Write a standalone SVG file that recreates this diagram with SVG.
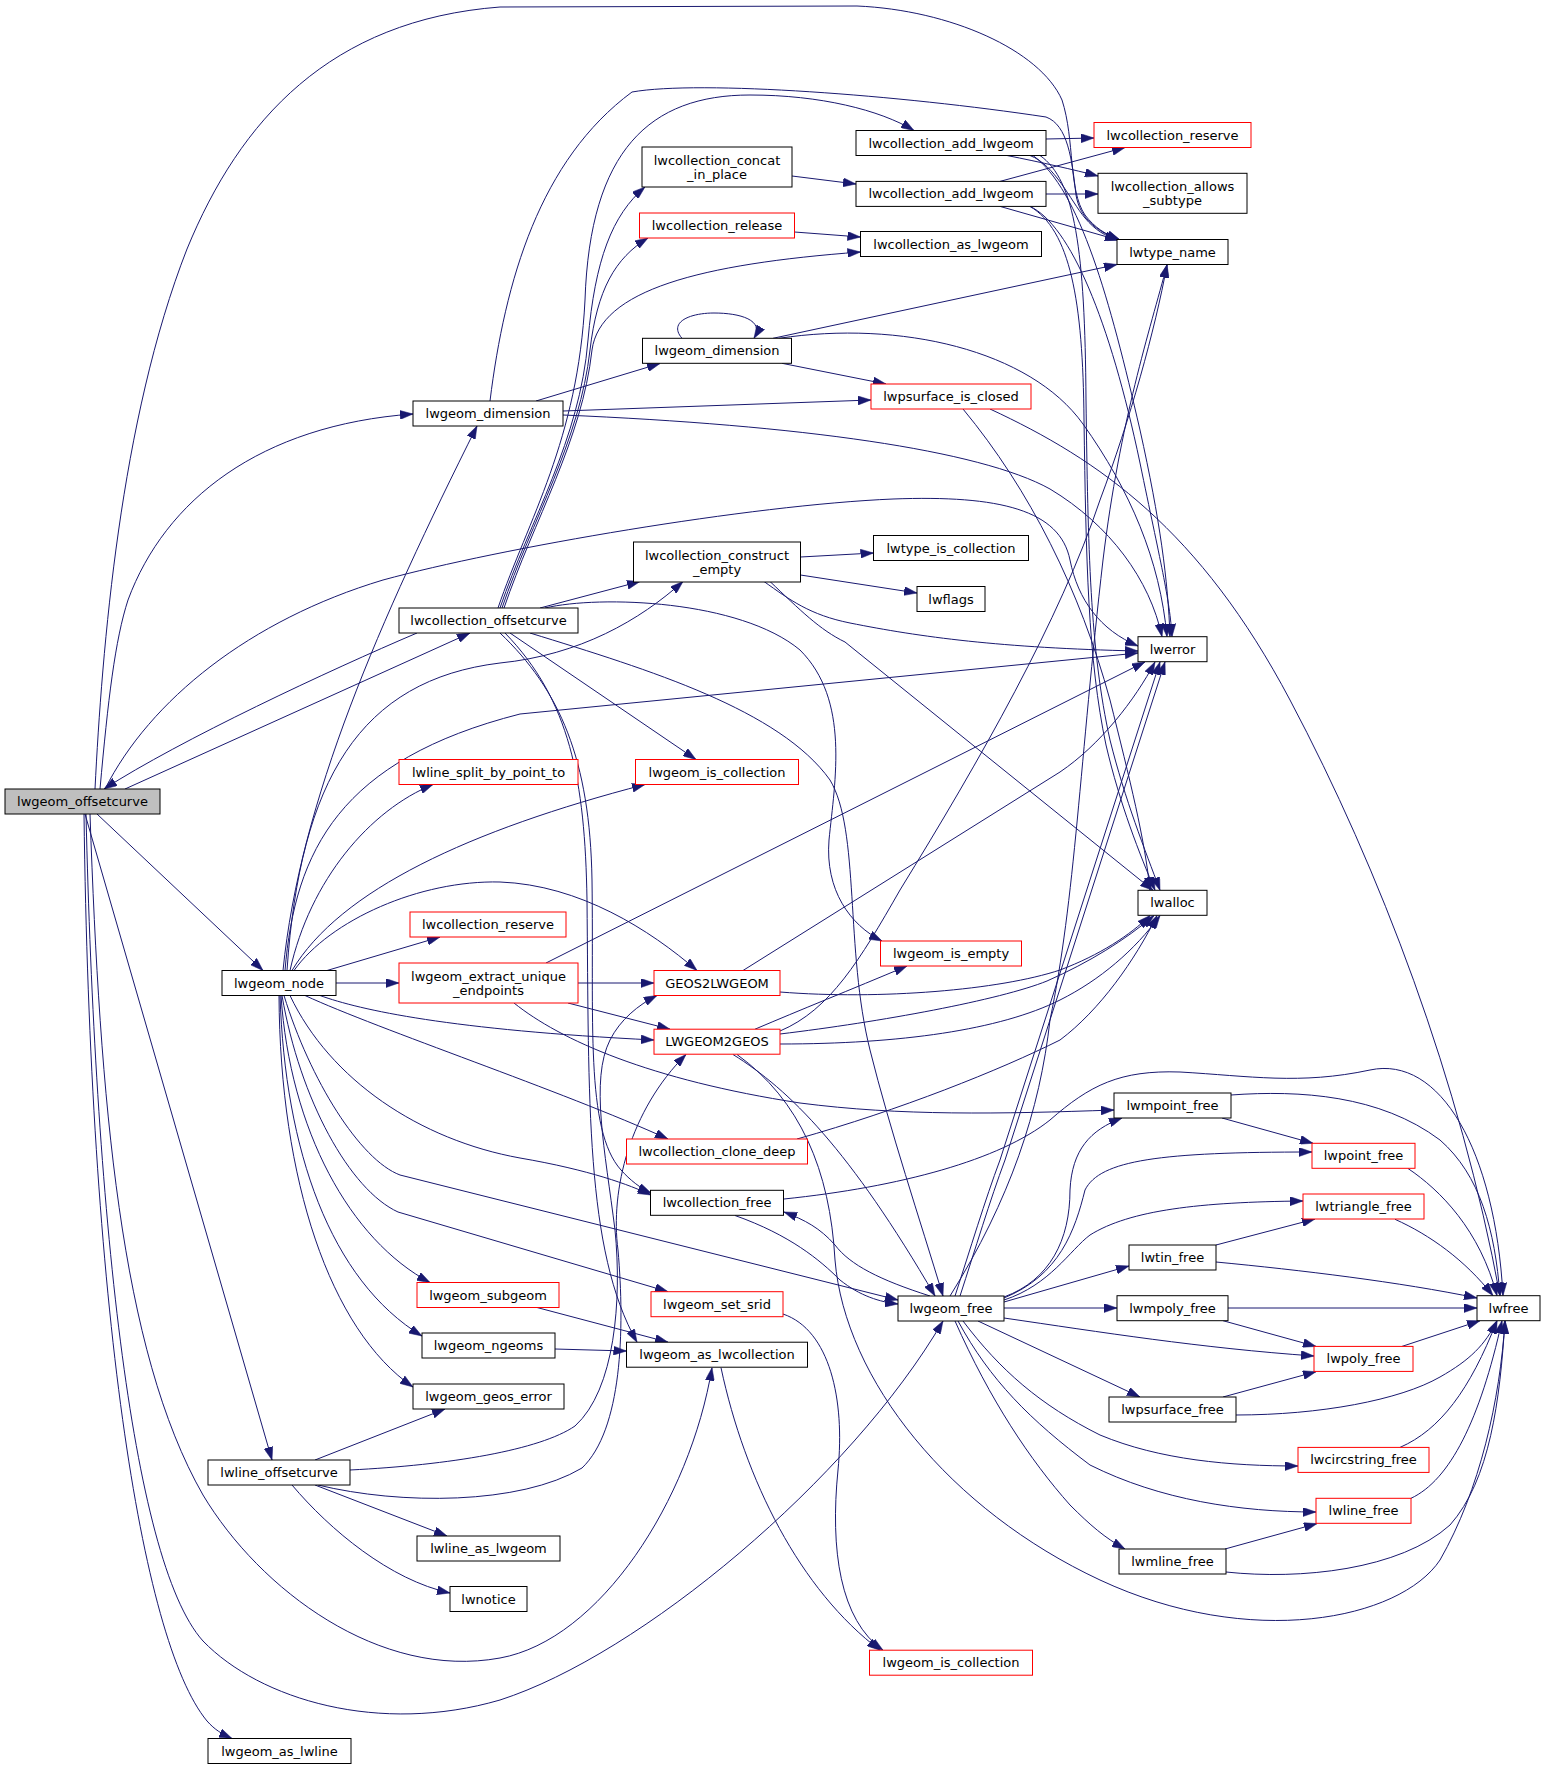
<svg xmlns="http://www.w3.org/2000/svg" width="1545" height="1770" viewBox="0 0 1545 1770">
<style>
.node rect{fill:#ffffff;stroke:#000000;stroke-width:1}
.node.red rect{stroke:#ff0000}
.node.start rect{fill:#bfbfbf}
.node text{font-family:"DejaVu Sans","Liberation Sans",sans-serif;font-size:13px;text-anchor:middle;fill:#000000}
#edges path{fill:none;stroke:#191970;stroke-width:1}
</style>
<defs>
<marker id="ah" viewBox="0 0 13 9" refX="13" refY="4.5" markerWidth="13" markerHeight="9" orient="auto" markerUnits="userSpaceOnUse">
<path d="M0,0 L13,4.5 L0,9 z" fill="#191970" stroke="#191970" stroke-width="0.5"/>
</marker>
</defs>
<rect x="0" y="0" width="1545" height="1770" fill="#ffffff"/>
<g id="edges" marker-end="url(#ah)">
<path d="M95,789 C102,650 120,420 187,249 C240,120 330,20 500,7 L857,6 C950,10 1040,50 1062,100 C1075,140 1068,190 1085,215 C1095,228 1105,234 1120,240"/>
<path d="M100,789 C108,700 115,640 128,600 C165,500 260,425 413,414"/>
<path d="M105,789 C150,700 250,620 383,580 C500,548 750,505 893,499 C1000,495 1060,510 1070,560 C1078,600 1100,630 1138,646"/>
<path d="M125,789 L470,633"/>
<path d="M97,814 L263,970.5"/>
<path d="M85,814 L272,1460"/>
<path d="M90,814 C100,1100 120,1350 203,1495 C260,1590 380,1680 500,1658 C600,1640 690,1500 712,1367.7"/>
<path d="M86,814 C95,1200 130,1560 203,1641 C260,1700 380,1735 500,1700 C640,1655 850,1480 943,1321"/>
<path d="M84,814 C90,1300 140,1640 207,1721 C215,1730 222,1734 232,1738.5"/>
<path d="M417,633 C330,670 180,740 104,789"/>
<path d="M500,608 C530,520 580,440 588,340 C595,260 612,215 645,187"/>
<path d="M502,608 C532,520 580,440 590,350 C597,290 615,258 648,238"/>
<path d="M504,608 C534,520 582,440 592,350 C600,290 700,264 860.5,252"/>
<path d="M498,608 C528,520 578,440 585,300 C590,150 650,95 750,95 C820,95 880,110 914,130.5"/>
<path d="M540,608 L640,581.5"/>
<path d="M545,608 C600,595 740,600 800,650 C850,700 835,780 829,840 C825,890 850,925 882,941"/>
<path d="M510,633 L696,759.5"/>
<path d="M530,633 C650,670 780,710 830,780 C860,830 845,950 870,1050 C890,1130 920,1220 943,1296"/>
<path d="M500,633 C560,690 590,760 592,880 C594,1020 585,1130 621,1170 C630,1180 640,1188 651,1193"/>
<path d="M505,633 C570,700 585,780 587,900 C589,1100 585,1250 637,1342.2"/>
<path d="M283,970.5 C300,800 380,620 477,426"/>
<path d="M285,970.5 C295,850 340,760 520,714 L1138,653"/>
<path d="M287,970.5 C300,780 360,680 500,663 C580,655 640,620 683,581.5"/>
<path d="M290,970.5 C310,880 370,810 433,784.5"/>
<path d="M292,970.5 C340,890 470,830 645,784.5"/>
<path d="M294,970.5 C330,920 420,880 500,882 C580,885 650,930 697,970.5"/>
<path d="M327,970.5 L440,937"/>
<path d="M336,983 L399,983"/>
<path d="M320,995.5 C360,1010 450,1030 654,1040"/>
<path d="M305,995.5 C380,1030 560,1090 668,1139"/>
<path d="M290,995.5 C330,1080 420,1140 520,1158 C590,1170 630,1185 651,1195"/>
<path d="M284,995.5 C310,1080 360,1160 400,1175 L898,1300"/>
<path d="M282,995.5 C300,1100 350,1190 398,1212 L668,1291.7"/>
<path d="M281,995.5 C290,1130 350,1240 430,1282.5"/>
<path d="M280,995.5 C285,1150 330,1280 422,1336"/>
<path d="M279,995.5 C280,1180 330,1330 413,1387"/>
<path d="M490,401 C505,280 540,160 632,92 C700,80 900,95 1046,117 C1068,125 1072,160 1076,195 C1080,220 1100,233 1120,240"/>
<path d="M536,401 L660,363.5"/>
<path d="M563,411 L871,400"/>
<path d="M563,415 C800,425 980,450 1050,489 C1110,525 1150,580 1162,636.7"/>
<path d="M682,338.3 C668,322 690,313 714,313 C740,313 765,320 754,338.3"/>
<path d="M773,338.3 L1117,264.5"/>
<path d="M779,338.3 C900,320 1030,350 1083,424 C1130,490 1160,560 1167,636.7"/>
<path d="M782,363.3 L886,384"/>
<path d="M792,176 L856,184"/>
<path d="M794.5,232 L860.5,237"/>
<path d="M800.5,557 L873.5,553"/>
<path d="M800.5,575 L917,593"/>
<path d="M764,581.5 C790,600 810,615 850,623 C920,637 1000,648 1138,651"/>
<path d="M770,581.5 C800,610 820,630 845,642 L1153,890.3"/>
<path d="M1046,139 L1094,138"/>
<path d="M1007,155.5 C1040,162 1075,170 1098,176"/>
<path d="M1030,155.5 C1055,165 1070,200 1085,218 C1095,230 1105,236 1118,240"/>
<path d="M1033,155.5 C1080,190 1110,300 1140,430 C1160,520 1168,580 1170,636.7"/>
<path d="M1040,155.5 C1075,180 1085,250 1086,400 C1088,550 1090,650 1110,740 C1125,800 1145,850 1160,890.3"/>
<path d="M1000,181.4 L1125,147.5"/>
<path d="M1046,194 L1098,194"/>
<path d="M1000,206.4 L1118,240"/>
<path d="M1030,206.4 C1070,225 1110,320 1140,463 C1160,560 1170,600 1172,636.7"/>
<path d="M1030,206.4 C1070,230 1083,300 1084,420 C1086,560 1088,660 1106,745 C1120,805 1140,855 1155,890.3"/>
<path d="M963,409 C1030,490 1080,590 1110,700 C1130,780 1145,840 1150,890.3"/>
<path d="M990,409 C1100,460 1200,530 1290,700 C1380,870 1460,1080 1500,1295.7"/>
<path d="M578,983 L654,983"/>
<path d="M568,1003 L670,1029.2"/>
<path d="M546,963 L1145,661.9"/>
<path d="M514,1003 C560,1040 650,1080 800,1103 C900,1116 1000,1114 1114,1110"/>
<path d="M743,970.5 L1060,772 C1100,745 1135,700 1155,661.9"/>
<path d="M780,992 C880,1000 1000,990 1060,970 C1100,955 1130,935 1150,915.6"/>
<path d="M755,1029.2 C800,1010 850,990 907,966"/>
<path d="M780,1031 C830,1010 860,960 900,890 C980,760 1060,620 1100,500 C1130,420 1155,330 1167,264.8"/>
<path d="M780,1044 C900,1044 1000,1030 1060,1000 C1100,980 1135,950 1160,915.6"/>
<path d="M780,1034 C880,1022 1000,1000 1047,981 C1090,962 1125,940 1154,915.6"/>
<path d="M733,1054.5 C790,1090 850,1150 935,1296"/>
<path d="M737,1054.5 C800,1100 830,1170 835,1260 C845,1380 950,1510 1100,1580 C1250,1650 1400,1620 1440,1560 C1480,1490 1500,1400 1505,1320.7"/>
<path d="M797,1139 C900,1110 1000,1070 1060,1040 C1100,1010 1135,960 1157,915.6"/>
<path d="M735,1215.5 C790,1235 820,1260 840,1280 C860,1296 880,1302 898,1304"/>
<path d="M784,1199 C900,1187 1000,1160 1050,1120 C1090,1085 1120,1070 1180,1072 C1250,1076 1300,1085 1370,1070 C1440,1055 1495,1150 1503,1295.7"/>
<path d="M930,1296 C880,1280 850,1265 835,1245 C820,1228 805,1220 784,1212"/>
<path d="M955,1296 C970,1250 985,1200 1000,1160 L1160,661.9"/>
<path d="M960,1296 C975,1250 990,1200 1005,1160 L1165,661.9"/>
<path d="M950,1296 C1010,1200 1040,1110 1050,1020 C1075,900 1080,760 1103,560 C1120,420 1150,330 1167,264.8"/>
<path d="M1004,1297 C1050,1280 1070,1240 1070,1190 C1072,1150 1090,1130 1122,1118"/>
<path d="M1004,1298 C1060,1275 1075,1230 1085,1190 C1100,1160 1160,1152 1312,1152"/>
<path d="M1004,1300 C1050,1285 1070,1250 1090,1235 C1130,1210 1200,1202 1303,1201"/>
<path d="M1004,1302 L1129,1266"/>
<path d="M1004,1308 L1117,1308"/>
<path d="M1004,1318 C1100,1332 1200,1348 1314,1356"/>
<path d="M978,1321 L1140,1397"/>
<path d="M963,1321 C1000,1370 1040,1405 1100,1435 C1160,1460 1230,1466 1298,1466"/>
<path d="M958,1321 C990,1380 1030,1420 1090,1465 C1160,1500 1240,1512 1316,1512"/>
<path d="M955,1321 C990,1400 1030,1460 1070,1505 C1090,1525 1105,1538 1125,1549"/>
<path d="M1222,1118 L1313,1143.3"/>
<path d="M1231,1095 C1300,1090 1380,1095 1440,1140 C1480,1175 1495,1230 1500,1295.7"/>
<path d="M1216,1245 L1315,1219"/>
<path d="M1216,1262 C1300,1270 1400,1282 1477,1298"/>
<path d="M1228,1308 L1477,1308"/>
<path d="M1223,1320.7 L1316,1346.4"/>
<path d="M1223,1397 L1316,1371.7"/>
<path d="M1236,1415 C1320,1415 1400,1400 1440,1377 C1470,1360 1485,1345 1497,1320.7"/>
<path d="M1225,1549 L1317,1523.6"/>
<path d="M1226,1572 C1300,1580 1400,1570 1450,1525 C1490,1480 1500,1400 1505,1320.7"/>
<path d="M1408,1168.5 C1440,1190 1480,1230 1497,1295.7"/>
<path d="M1395,1219.3 C1430,1235 1465,1260 1493,1295.7"/>
<path d="M1402,1346.4 L1480,1320.7"/>
<path d="M1400,1447.4 C1440,1430 1470,1390 1497,1320.7"/>
<path d="M1411,1498.3 C1450,1480 1480,1420 1502,1320.7"/>
<path d="M315,1460 L445,1409"/>
<path d="M350,1470 C450,1465 540,1450 575,1426 C615,1390 622,1300 615,1230 C605,1150 590,1080 610,1040 C620,1020 638,1005 657,995.5"/>
<path d="M318,1485 C400,1505 520,1505 582,1468 C622,1430 625,1330 618,1250 C610,1190 630,1110 686,1054.5"/>
<path d="M315,1485 L447,1536"/>
<path d="M292,1485 C330,1530 390,1580 450,1593"/>
<path d="M537,1307.5 L668,1342.2"/>
<path d="M555,1349 L626.5,1351"/>
<path d="M721,1367.7 C745,1480 800,1590 880,1650.2"/>
<path d="M783,1314 C830,1330 845,1400 838,1470 C830,1550 840,1620 883,1650.2"/>
</g>
<g id="n_lwgeom_offsetcurve" class="node start"><rect x="5" y="789" width="155" height="25"/><text x="82.5" y="806">lwgeom_offsetcurve</text></g>
<g id="n_lwgeom_node" class="node"><rect x="222" y="970.5" width="114" height="25"/><text x="279" y="987.5">lwgeom_node</text></g>
<g id="n_lwline_offsetcurve" class="node"><rect x="208" y="1460" width="142" height="25"/><text x="279" y="1477">lwline_offsetcurve</text></g>
<g id="n_lwgeom_as_lwline" class="node"><rect x="208" y="1738.5" width="143" height="25"/><text x="279.5" y="1755.5">lwgeom_as_lwline</text></g>
<g id="n_lwgeom_dimension_a" class="node"><rect x="413" y="401" width="150" height="25"/><text x="488" y="418">lwgeom_dimension</text></g>
<g id="n_lwcollection_offsetcurve" class="node"><rect x="399" y="608" width="179" height="25"/><text x="488.5" y="625">lwcollection_offsetcurve</text></g>
<g id="n_lwline_split_by_point_to" class="node red"><rect x="399" y="759.5" width="179" height="25"/><text x="488.5" y="776.5">lwline_split_by_point_to</text></g>
<g id="n_lwcollection_reserve_b" class="node red"><rect x="410" y="912" width="156" height="25"/><text x="488" y="929">lwcollection_reserve</text></g>
<g id="n_lwgeom_extract_unique_endpoints" class="node red"><rect x="399" y="963" width="179" height="40"/><text x="488.5" y="980.5">lwgeom_extract_unique</text><text x="488.5" y="994.5">_endpoints</text></g>
<g id="n_lwgeom_subgeom" class="node red"><rect x="417" y="1282.5" width="142" height="25"/><text x="488" y="1299.5">lwgeom_subgeom</text></g>
<g id="n_lwgeom_ngeoms" class="node"><rect x="422" y="1333" width="133" height="25"/><text x="488.5" y="1350">lwgeom_ngeoms</text></g>
<g id="n_lwgeom_geos_error" class="node"><rect x="413" y="1384" width="151" height="25"/><text x="488.5" y="1401">lwgeom_geos_error</text></g>
<g id="n_lwline_as_lwgeom" class="node"><rect x="417" y="1536" width="143" height="25"/><text x="488.5" y="1553">lwline_as_lwgeom</text></g>
<g id="n_lwnotice" class="node"><rect x="450" y="1586.5" width="77" height="25"/><text x="488.5" y="1603.5">lwnotice</text></g>
<g id="n_lwcollection_concat_in_place" class="node"><rect x="642" y="147" width="150" height="40"/><text x="717" y="164.5">lwcollection_concat</text><text x="717" y="178.5">_in_place</text></g>
<g id="n_lwcollection_release" class="node red"><rect x="639.5" y="213" width="155" height="25"/><text x="717" y="230">lwcollection_release</text></g>
<g id="n_lwgeom_dimension_b" class="node"><rect x="642.5" y="338.3" width="149" height="25"/><text x="717" y="355.3">lwgeom_dimension</text></g>
<g id="n_lwcollection_construct_empty" class="node"><rect x="633.5" y="542" width="167" height="40"/><text x="717" y="559.5">lwcollection_construct</text><text x="717" y="573.5">_empty</text></g>
<g id="n_lwgeom_is_collection_a" class="node red"><rect x="635.5" y="759.5" width="163" height="25"/><text x="717" y="776.5">lwgeom_is_collection</text></g>
<g id="n_GEOS2LWGEOM" class="node red"><rect x="654" y="970.5" width="126" height="25"/><text x="717" y="987.5">GEOS2LWGEOM</text></g>
<g id="n_LWGEOM2GEOS" class="node red"><rect x="654" y="1029.2" width="126" height="25"/><text x="717" y="1046.2">LWGEOM2GEOS</text></g>
<g id="n_lwcollection_clone_deep" class="node red"><rect x="626.5" y="1139" width="181" height="25"/><text x="717" y="1156">lwcollection_clone_deep</text></g>
<g id="n_lwcollection_free" class="node"><rect x="650.5" y="1190.3" width="133" height="25"/><text x="717" y="1207.3">lwcollection_free</text></g>
<g id="n_lwgeom_set_srid" class="node red"><rect x="651" y="1291.7" width="132" height="25"/><text x="717" y="1308.7">lwgeom_set_srid</text></g>
<g id="n_lwgeom_as_lwcollection" class="node"><rect x="626.5" y="1342.2" width="181" height="25"/><text x="717" y="1359.2">lwgeom_as_lwcollection</text></g>
<g id="n_lwcollection_add_lwgeom_a" class="node"><rect x="856" y="130.5" width="190" height="25"/><text x="951" y="147.5">lwcollection_add_lwgeom</text></g>
<g id="n_lwcollection_add_lwgeom_b" class="node"><rect x="856" y="181.4" width="190" height="25"/><text x="951" y="198.4">lwcollection_add_lwgeom</text></g>
<g id="n_lwcollection_as_lwgeom" class="node"><rect x="860.5" y="231.5" width="181" height="25"/><text x="951" y="248.5">lwcollection_as_lwgeom</text></g>
<g id="n_lwpsurface_is_closed" class="node red"><rect x="871" y="384" width="160" height="25"/><text x="951" y="401">lwpsurface_is_closed</text></g>
<g id="n_lwtype_is_collection" class="node"><rect x="873.5" y="535.5" width="155" height="25"/><text x="951" y="552.5">lwtype_is_collection</text></g>
<g id="n_lwflags" class="node"><rect x="917" y="586.5" width="68" height="25"/><text x="951" y="603.5">lwflags</text></g>
<g id="n_lwgeom_is_empty" class="node red"><rect x="880.5" y="941" width="141" height="25"/><text x="951" y="958">lwgeom_is_empty</text></g>
<g id="n_lwgeom_free" class="node"><rect x="898" y="1296" width="106" height="25"/><text x="951" y="1313">lwgeom_free</text></g>
<g id="n_lwgeom_is_collection_b" class="node red"><rect x="869.5" y="1650.2" width="163" height="25"/><text x="951" y="1667.2">lwgeom_is_collection</text></g>
<g id="n_lwcollection_reserve_a" class="node red"><rect x="1094" y="122.5" width="157" height="25"/><text x="1172.5" y="139.5">lwcollection_reserve</text></g>
<g id="n_lwcollection_allows_subtype" class="node"><rect x="1098" y="173.3" width="149" height="40"/><text x="1172.5" y="190.8">lwcollection_allows</text><text x="1172.5" y="204.8">_subtype</text></g>
<g id="n_lwtype_name" class="node"><rect x="1117" y="239.5" width="111" height="25"/><text x="1172.5" y="256.5">lwtype_name</text></g>
<g id="n_lwerror" class="node"><rect x="1138" y="636.7" width="69" height="25"/><text x="1172.5" y="653.7">lwerror</text></g>
<g id="n_lwalloc" class="node"><rect x="1138" y="890.3" width="69" height="25"/><text x="1172.5" y="907.3">lwalloc</text></g>
<g id="n_lwmpoint_free" class="node"><rect x="1114" y="1093" width="117" height="25"/><text x="1172.5" y="1110">lwmpoint_free</text></g>
<g id="n_lwtin_free" class="node"><rect x="1129" y="1245" width="87" height="25"/><text x="1172.5" y="1262">lwtin_free</text></g>
<g id="n_lwmpoly_free" class="node"><rect x="1117" y="1295.7" width="111" height="25"/><text x="1172.5" y="1312.7">lwmpoly_free</text></g>
<g id="n_lwpsurface_free" class="node"><rect x="1109" y="1397" width="127" height="25"/><text x="1172.5" y="1414">lwpsurface_free</text></g>
<g id="n_lwmline_free" class="node"><rect x="1119" y="1549" width="107" height="25"/><text x="1172.5" y="1566">lwmline_free</text></g>
<g id="n_lwpoint_free" class="node red"><rect x="1312" y="1143.3" width="103" height="25"/><text x="1363.5" y="1160.3">lwpoint_free</text></g>
<g id="n_lwtriangle_free" class="node red"><rect x="1303" y="1194" width="121" height="25"/><text x="1363.5" y="1211">lwtriangle_free</text></g>
<g id="n_lwpoly_free" class="node red"><rect x="1314" y="1346.4" width="99" height="25"/><text x="1363.5" y="1363.4">lwpoly_free</text></g>
<g id="n_lwcircstring_free" class="node red"><rect x="1298" y="1447.4" width="131" height="25"/><text x="1363.5" y="1464.4">lwcircstring_free</text></g>
<g id="n_lwline_free" class="node red"><rect x="1316" y="1498.3" width="95" height="25"/><text x="1363.5" y="1515.3">lwline_free</text></g>
<g id="n_lwfree" class="node"><rect x="1477" y="1295.7" width="63" height="25"/><text x="1508.5" y="1312.7">lwfree</text></g>
</svg>
